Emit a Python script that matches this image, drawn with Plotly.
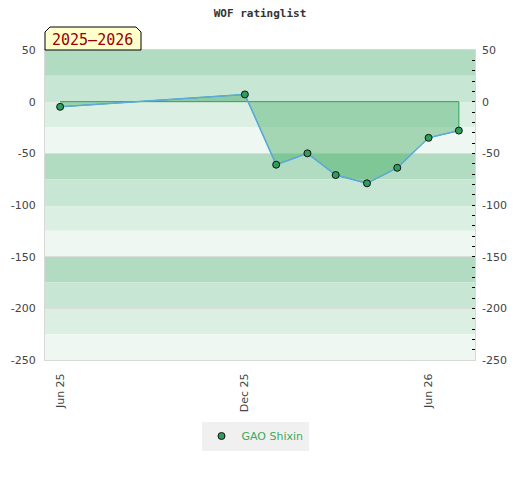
import plotly.graph_objects as go

# Rating list dates and rating change for the season
dates = ['2025-06-01', '2025-12-01', '2026-01-01', '2026-02-01', '2026-03-01',
         '2026-04-01', '2026-05-01', '2026-06-01', '2026-07-01']
change = [-5, 7, -61, -50, -71, -79, -64, -35, -28]

player = 'GAO Shixin'
season = '2025\u20132026'

tick_dates = ['2025-06-01', '2025-12-01', '2026-06-01']
tick_labels = ['Jun 25', 'Dec 25', 'Jun 26']

y_ticks = [50, 0, -50, -100, -150, -200, -250]
y_labels = ['50', '0', '-50', '-100', '-150', '-200', '-250']

y_min, y_max = -250, 50
band_colors = ['#b2dcc2', '#c8e6d4', '#dcefe3', '#eff7f2']

# the page body has an 8px margin, so the figure is drawn 8px in from the corner
OFF = 8
W, H = 520 - OFF, 480 - OFF

fig = go.Figure()

# filled area between zero line and the rating curve
fig.add_trace(go.Scatter(
    x=dates + [dates[-1], dates[0]],
    y=change + [0, 0],
    fill='toself', fillcolor='rgba(60,170,95,0.42)',
    mode='lines', line=dict(color='#2ca25f', width=1),
    hoverinfo='skip', showlegend=False
))

fig.add_trace(go.Scatter(
    x=dates, y=change, mode='lines', showlegend=False,
    line=dict(color='#5ea9dd', width=1.5), hoverinfo='skip'
))

fig.add_trace(go.Scatter(
    x=dates, y=change, mode='markers', name=player,
    marker=dict(color='#2e9e5b', size=7, line=dict(color='#111', width=1))
))

# dummy trace so the right axis is drawn
fig.add_trace(go.Scatter(x=[dates[0]], y=[0], yaxis='y2', mode='markers',
                         marker=dict(opacity=0), showlegend=False, hoverinfo='skip'))

# horizontal bands every 25 points
shapes = []
for i, top in enumerate(range(y_max, y_min, -25)):
    shapes.append(dict(type='rect', xref='paper', yref='y', x0=0, x1=1,
                       y0=top - 25, y1=top, fillcolor=band_colors[i % 4],
                       line=dict(width=0), layer='below'))

# season label box with cut corners (paper coords, from screen pixels)
def px(x):
    return (x - 45) / 430


def py(y):
    return (360 - y) / 310


box = 'M {} {} L {} {} L {} {} L {} {} L {} {} L {} {} Z'.format(
    px(45), py(50), px(45), py(32), px(50), py(27),
    px(136), py(27), px(141), py(32), px(141), py(50))
shapes.append(dict(type='path', xref='paper', yref='paper', path=box,
                   fillcolor='#ffffcc', line=dict(color='black', width=1)))

fig.update_layout(
    width=W, height=H,
    margin=dict(l=45 - OFF, r=W - (475 - OFF), t=50 - OFF, b=H - (360 - OFF),
                autoexpand=False),
    paper_bgcolor='white', plot_bgcolor='white',
    title=dict(text='<b>WOF ratinglist</b>', x=(260 - OFF) / W, xanchor='center',
               y=1 - (13 - OFF) / H, yanchor='middle', automargin=False,
               font=dict(family='DejaVu Sans Mono', size=11, color='#333')),
    font=dict(family='DejaVu Sans', size=11, color='#444'),
    shapes=shapes,
    annotations=[dict(text=season, xref='paper', yref='paper', x=px(92.5), y=py(40),
                      showarrow=False, xanchor='center', yanchor='middle',
                      font=dict(family='DejaVu Sans Mono', size=15, color='#990000'))],
    xaxis=dict(type='date', range=['2025-05-17', '2026-07-17'], automargin=False,
               tickvals=tick_dates, ticktext=tick_labels, tickangle=-90,
               ticks='outside', ticklen=8, tickcolor='rgba(0,0,0,0)',
               showgrid=False, zeroline=False,
               showline=True, linecolor='#d8d8d8', mirror=True),
    yaxis=dict(range=[y_min, y_max], tickvals=y_ticks, ticktext=y_labels,
               showgrid=True, gridcolor='#dcdcdc',
               zeroline=False, showline=True, linecolor='#d8d8d8', mirror=True,
               automargin=False, ticks='outside', ticklen=6, tickcolor='rgba(0,0,0,0)'),
    yaxis2=dict(range=[y_min, y_max], tickvals=y_ticks, ticktext=y_labels,
                overlaying='y', side='right',
                showgrid=False, zeroline=False, ticks='inside', ticklen=3,
                tickcolor='black', ticklabelstandoff=6, automargin=False,
                minor=dict(dtick=10, ticks='inside', ticklen=3, tickcolor='black')),
    legend=dict(orientation='h', x=(255 - OFF) / W, xanchor='center', xref='container',
                y=1 - (436 - OFF) / H, yanchor='middle', yref='container',
                itemwidth=30, bgcolor='#f0f0f0', font=dict(color='#3daa5c', size=11)),
)

fig.write_html('out.html')
